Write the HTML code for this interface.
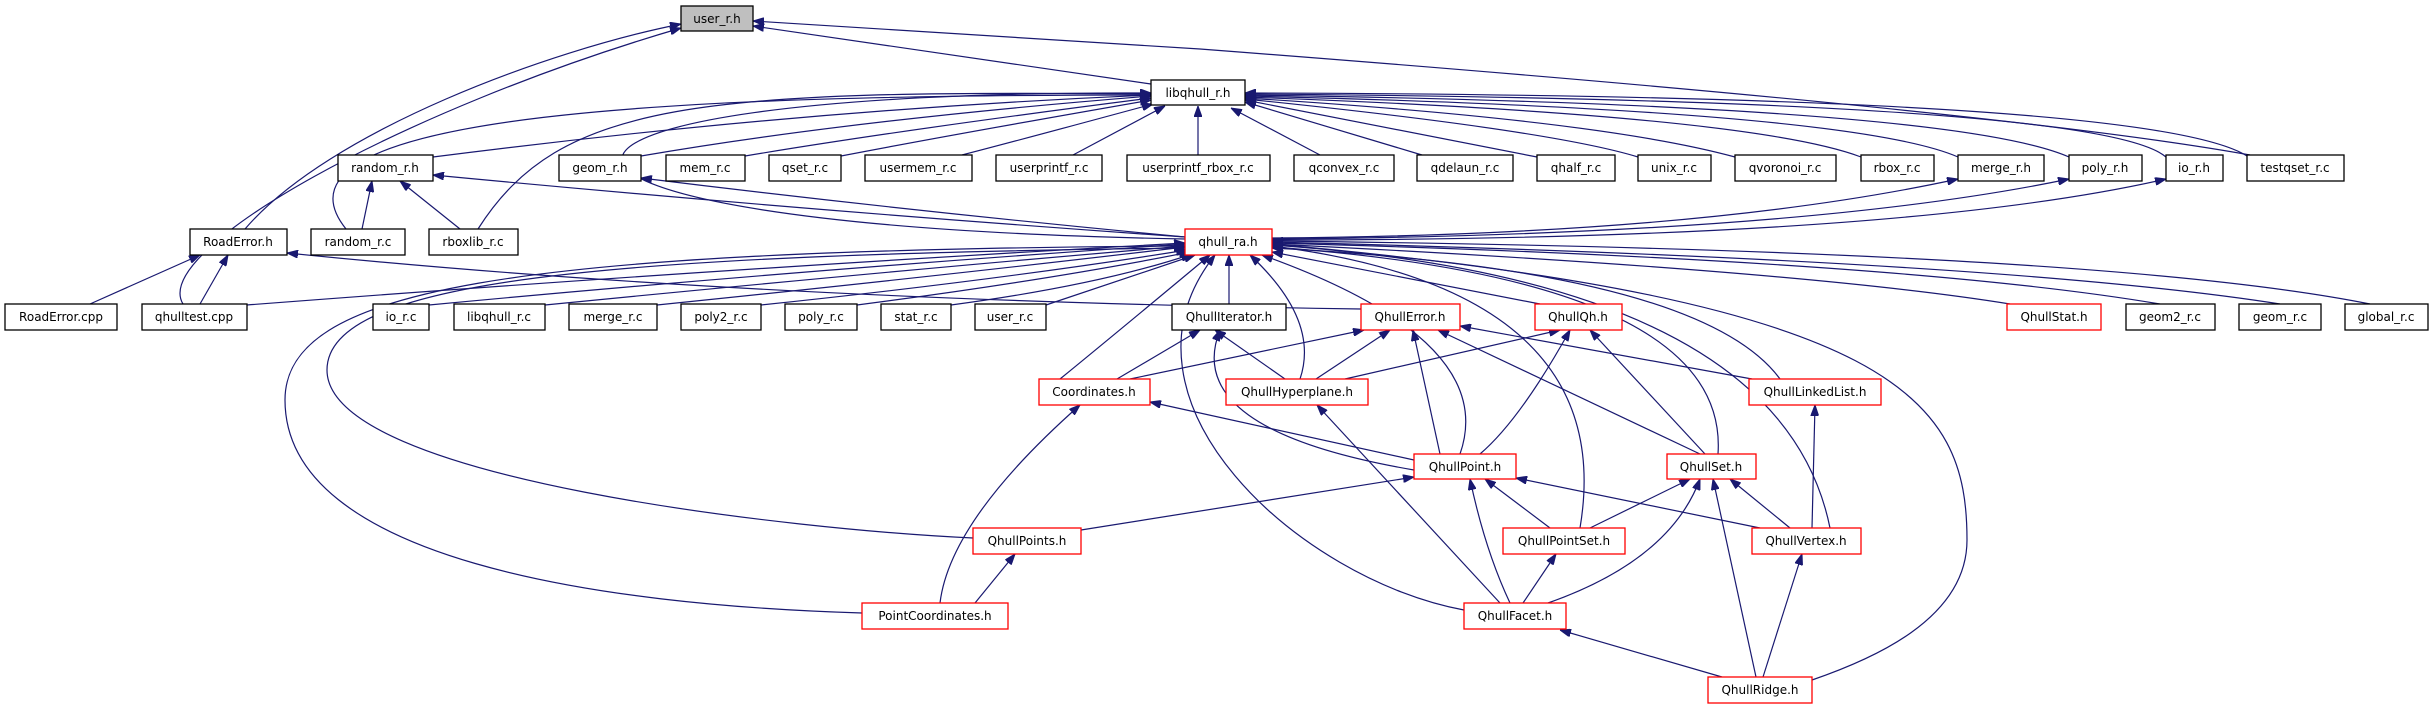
<!DOCTYPE html>
<html><head><meta charset="utf-8"><style>
html,body{margin:0;padding:0;background:#fff;}
svg{display:block;}
text{font-family:"DejaVu Sans","Liberation Sans",sans-serif;font-size:12px;fill:#000;text-anchor:middle;}
.n{fill:#fff;stroke:#000;stroke-width:1.3;}
.r{fill:#fff;stroke:#ff0000;stroke-width:1.3;}
.g{fill:#bfbfbf;stroke:#000;stroke-width:1.3;}
path{fill:none;stroke:#191970;stroke-width:1.2;marker-start:url(#a);}
</style></head><body>
<svg width="2434" height="709" viewBox="0 0 2434 709" xmlns="http://www.w3.org/2000/svg">
<defs><marker id="a" viewBox="0 0 11 8" refX="11" refY="4" markerWidth="11" markerHeight="8" markerUnits="userSpaceOnUse" orient="auto-start-reverse"><path d="M0,0 L11,4 L0,8 Z" style="fill:#191970;stroke:#191970;stroke-width:1;marker-start:none"/></marker></defs>

<!-- edges to user_r.h -->
<path d="M753,26 L1151,84"/>
<path d="M753,21 L1200,49 Q2000,110 2250,155"/>
<path d="M681,24 C550,50 330,130 245,229"/>
<path d="M681,28 C400,110 150,250 183,304"/>

<!-- edges to libqhull_r.h -->
<path d="M1151,95 Q800,110 433,157"/>
<path d="M1151,96 Q850,120 641,156"/>
<path d="M1151,98 Q900,130 745,156"/>
<path d="M1151,100 Q950,135 841,156"/>
<path d="M1153,104 Q1020,140 962,155"/>
<path d="M1165,106 L1073,155"/>
<path d="M1198,106 L1198,155"/>
<path d="M1231,108 L1320,155"/>
<path d="M1245,102 L1422,155"/>
<path d="M1245,100 L1537,157"/>
<path d="M1245,99 Q1550,130 1638,157"/>
<path d="M1245,98 Q1600,120 1735,157"/>
<path d="M1245,97 Q1750,115 1861,157"/>
<path d="M1245,96 Q1850,110 1958,157"/>
<path d="M1245,95 Q1950,105 2069,157"/>
<path d="M1245,94 Q2100,100 2166,157"/>
<path d="M1245,93 Q2150,95 2247,156"/>
<path d="M1151,95 C700,95 250,110 346,229"/>
<path d="M1151,94 C700,90 560,100 478,229"/>
<path d="M1151,93 C450,90 430,225 1185,239"/>

<!-- random_r.h / geom / merge / poly / io -->
<path d="M372,181 L362,229"/>
<path d="M400,181 L460,229"/>
<path d="M433,175 Q800,210 1185,237"/>
<path d="M641,178 Q900,210 1185,237"/>
<path d="M1958,179 Q1700,235 1272,238"/>
<path d="M2069,179 Q1800,235 1272,239"/>
<path d="M2166,179 Q1900,240 1272,240"/>

<!-- RoadError.h -->
<path d="M200,255 L90,304"/>
<path d="M228,255 L200,304"/>
<path d="M287,253 Q750,300 1361,309"/>

<!-- to qhull_ra.h -->
<path d="M1185,243 Q700,270 247,305"/>
<path d="M1185,244 Q800,270 429,305"/>
<path d="M1185,246 Q900,270 545,305"/>
<path d="M1185,247 Q950,275 657,305"/>
<path d="M1187,250 Q1000,280 761,305"/>
<path d="M1190,252 Q1050,280 857,305"/>
<path d="M1192,254 Q1100,285 951,305"/>
<path d="M1195,255 L1046,305"/>
<path d="M1229,255 L1229,304"/>
<path d="M1272,252 L1540,304"/>
<path d="M1272,244 Q1800,270 2010,304"/>
<path d="M1272,243 Q1900,260 2160,304"/>
<path d="M1272,242 Q2000,260 2280,304"/>
<path d="M1272,241 Q2100,250 2370,304"/>
<path d="M1210,255 Q1120,330 1060,379"/>
<path d="M1250,255 Q1320,320 1300,379"/>
<path d="M1262,255 Q1500,340 1460,454"/>
<path d="M1272,248 Q1700,270 1780,379"/>
<path d="M1272,247 Q1730,280 1718,454"/>
<path d="M1272,246 Q1620,290 1580,528"/>
<path d="M1272,245 Q1780,280 1830,528"/>
<path d="M1215,255 C1100,400 1300,580 1464,610"/>
<path d="M1272,244 C1900,300 1967,400 1967,540 C1967,620 1870,660 1812,680"/>
<path d="M1185,248 C600,255 327,280 327,370 C327,480 800,530 973,538"/>
<path d="M1185,246 C500,250 285,290 285,400 C285,560 600,605 862,613"/>

<!-- QhullIterator -->
<path d="M1200,330 L1117,379"/>
<path d="M1215,330 L1285,379"/>
<path d="M1220,330 Q1180,430 1414,470"/>
<!-- QhullError -->
<path d="M1364,330 L1130,379"/>
<path d="M1390,330 L1316,379"/>
<path d="M1413,330 L1440,454"/>
<path d="M1438,330 L1700,454"/>
<path d="M1460,326 L1752,379"/>
<!-- QhullQh -->
<path d="M1560,330 L1345,379"/>
<path d="M1570,330 Q1520,420 1480,454"/>
<path d="M1590,330 L1705,454"/>
<!-- Coordinates -->
<path d="M1150,402 L1414,460"/>
<path d="M1080,405 Q950,520 940,603"/>
<!-- Hyperplane -->
<path d="M1317,405 L1500,603"/>
<!-- LinkedList -->
<path d="M1815,405 L1812,528"/>
<!-- QhullPoint -->
<path d="M1414,477 L1081,530"/>
<path d="M1485,479 L1550,528"/>
<path d="M1516,478 L1760,528"/>
<path d="M1470,479 Q1485,550 1510,603"/>
<!-- QhullSet -->
<path d="M1690,479 L1590,528"/>
<path d="M1730,479 L1790,528"/>
<path d="M1700,479 Q1670,560 1548,603"/>
<path d="M1713,479 L1756,677"/>
<!-- others -->
<path d="M1015,554 L975,603"/>
<path d="M1556,554 L1523,603"/>
<path d="M1802,554 L1763,677"/>
<path d="M1560,630 L1722,677"/>

<!-- nodes -->
<rect class="g" x="681" y="6" width="72" height="25"/><text x="717" y="23">user_r.h</text>
<rect class="n" x="1151" y="80" width="94" height="25"/><text x="1198" y="97">libqhull_r.h</text>

<rect class="n" x="338" y="155" width="95" height="26"/><text x="385" y="172">random_r.h</text>
<rect class="n" x="559" y="155" width="82" height="26"/><text x="600" y="172">geom_r.h</text>
<rect class="n" x="666" y="155" width="79" height="26"/><text x="705" y="172">mem_r.c</text>
<rect class="n" x="769" y="155" width="72" height="26"/><text x="805" y="172">qset_r.c</text>
<rect class="n" x="865" y="155" width="107" height="26"/><text x="918" y="172">usermem_r.c</text>
<rect class="n" x="996" y="155" width="106" height="26"/><text x="1049" y="172">userprintf_r.c</text>
<rect class="n" x="1127" y="155" width="143" height="26"/><text x="1198" y="172">userprintf_rbox_r.c</text>
<rect class="n" x="1294" y="155" width="100" height="26"/><text x="1344" y="172">qconvex_r.c</text>
<rect class="n" x="1417" y="155" width="96" height="26"/><text x="1465" y="172">qdelaun_r.c</text>
<rect class="n" x="1537" y="155" width="78" height="26"/><text x="1576" y="172">qhalf_r.c</text>
<rect class="n" x="1638" y="155" width="73" height="26"/><text x="1674" y="172">unix_r.c</text>
<rect class="n" x="1735" y="155" width="101" height="26"/><text x="1785" y="172">qvoronoi_r.c</text>
<rect class="n" x="1861" y="155" width="73" height="26"/><text x="1897" y="172">rbox_r.c</text>
<rect class="n" x="1958" y="155" width="86" height="26"/><text x="2001" y="172">merge_r.h</text>
<rect class="n" x="2069" y="155" width="73" height="26"/><text x="2105" y="172">poly_r.h</text>
<rect class="n" x="2166" y="155" width="57" height="26"/><text x="2194" y="172">io_r.h</text>
<rect class="n" x="2247" y="155" width="97" height="26"/><text x="2295" y="172">testqset_r.c</text>

<rect class="n" x="190" y="229" width="97" height="26"/><text x="238" y="246">RoadError.h</text>
<rect class="n" x="311" y="229" width="94" height="26"/><text x="358" y="246">random_r.c</text>
<rect class="n" x="429" y="229" width="89" height="26"/><text x="473" y="246">rboxlib_r.c</text>
<rect class="r" x="1185" y="229" width="87" height="26"/><text x="1228" y="246">qhull_ra.h</text>

<rect class="n" x="5" y="304" width="112" height="26"/><text x="61" y="321">RoadError.cpp</text>
<rect class="n" x="142" y="304" width="105" height="26"/><text x="194" y="321">qhulltest.cpp</text>
<rect class="n" x="373" y="304" width="56" height="26"/><text x="401" y="321">io_r.c</text>
<rect class="n" x="454" y="304" width="91" height="26"/><text x="499" y="321">libqhull_r.c</text>
<rect class="n" x="569" y="304" width="88" height="26"/><text x="613" y="321">merge_r.c</text>
<rect class="n" x="681" y="304" width="80" height="26"/><text x="721" y="321">poly2_r.c</text>
<rect class="n" x="785" y="304" width="72" height="26"/><text x="821" y="321">poly_r.c</text>
<rect class="n" x="881" y="304" width="70" height="26"/><text x="916" y="321">stat_r.c</text>
<rect class="n" x="975" y="304" width="71" height="26"/><text x="1010" y="321">user_r.c</text>
<rect class="n" x="1172" y="304" width="114" height="26"/><text x="1229" y="321">QhullIterator.h</text>
<rect class="r" x="1361" y="304" width="99" height="26"/><text x="1410" y="321">QhullError.h</text>
<rect class="r" x="1535" y="304" width="87" height="26"/><text x="1578" y="321">QhullQh.h</text>
<rect class="r" x="2007" y="304" width="94" height="26"/><text x="2054" y="321">QhullStat.h</text>
<rect class="n" x="2126" y="304" width="89" height="26"/><text x="2170" y="321">geom2_r.c</text>
<rect class="n" x="2239" y="304" width="82" height="26"/><text x="2280" y="321">geom_r.c</text>
<rect class="n" x="2345" y="304" width="83" height="26"/><text x="2386" y="321">global_r.c</text>

<rect class="r" x="1039" y="379" width="111" height="26"/><text x="1094" y="396">Coordinates.h</text>
<rect class="r" x="1226" y="379" width="142" height="26"/><text x="1297" y="396">QhullHyperplane.h</text>
<rect class="r" x="1749" y="379" width="132" height="26"/><text x="1815" y="396">QhullLinkedList.h</text>

<rect class="r" x="1414" y="454" width="102" height="25"/><text x="1465" y="471">QhullPoint.h</text>
<rect class="r" x="1667" y="454" width="89" height="25"/><text x="1711" y="471">QhullSet.h</text>

<rect class="r" x="973" y="528" width="108" height="26"/><text x="1027" y="545">QhullPoints.h</text>
<rect class="r" x="1503" y="528" width="122" height="26"/><text x="1564" y="545">QhullPointSet.h</text>
<rect class="r" x="1752" y="528" width="109" height="26"/><text x="1806" y="545">QhullVertex.h</text>

<rect class="r" x="862" y="603" width="146" height="26"/><text x="935" y="620">PointCoordinates.h</text>
<rect class="r" x="1464" y="603" width="102" height="26"/><text x="1515" y="620">QhullFacet.h</text>

<rect class="r" x="1708" y="677" width="104" height="26"/><text x="1760" y="694">QhullRidge.h</text>
</svg>
</body></html>
